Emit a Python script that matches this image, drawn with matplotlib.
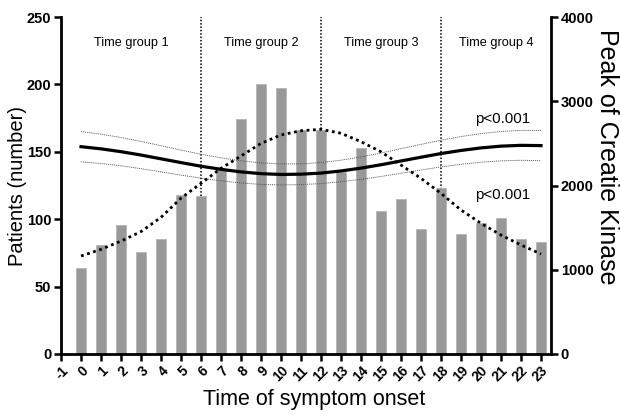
import matplotlib
matplotlib.use('Agg')
import matplotlib.pyplot as plt

plt.rcParams['font.family'] = ['Liberation Sans', 'DejaVu Sans']

HOURS = list(range(24))
PATIENTS = [64, 81, 96, 76, 85, 118, 117, 137, 174, 200, 197, 166,
            166, 135, 153, 106, 115, 93, 123, 89, 97, 101, 85, 83]

# cosinor fit of patients (left axis) with its confidence band
FIT = [153.8, 152.2, 150.1, 147.6, 144.8, 142.0, 139.3, 137.0, 135.1, 133.8, 133.2, 133.4,
       134.2, 135.8, 137.9, 140.4, 143.2, 146.0, 148.7, 151.0, 152.9, 154.2, 154.8, 154.6]
FIT_UP = [165.0, 163.1, 160.6, 157.7, 154.5, 151.3, 148.2, 145.5, 143.3, 141.8, 141.0, 141.1,
          142.0, 143.8, 146.2, 149.1, 152.3, 155.5, 158.6, 161.3, 163.5, 165.1, 165.9, 165.8]
FIT_LO = [142.6, 141.3, 139.6, 137.5, 135.1, 132.7, 130.4, 128.5, 126.9, 125.8, 125.4, 125.7,
          126.4, 127.8, 129.6, 131.7, 134.1, 136.5, 138.8, 140.7, 142.3, 143.3, 143.7, 143.4]

# peak creatine kinase fit (right axis)
CK = [1163, 1242, 1340, 1453, 1622, 1850, 2026, 2204, 2350, 2500, 2600, 2650,
      2667, 2620, 2520, 2400, 2243, 2085, 1907, 1709, 1551, 1412, 1294, 1187]

GROUPS = ["Time group 1", "Time group 2", "Time group 3", "Time group 4"]
GROUP_X = [2.5, 9, 15, 20.75]
BOUNDS = [6, 12, 18]

fig = plt.figure(figsize=(6.2, 4.15), dpi=100)
ax = fig.add_axes([0.0984, 0.147, 0.7903, 0.812])
ax2 = ax.twinx()

ax.bar(HOURS, PATIENTS, width=0.5, color='#999999', edgecolor='#b0b0b0', linewidth=0.5, zorder=2)
for b in BOUNDS:
    ax.axvline(b, color='black', linestyle=(0, (1, 1.2)), linewidth=1.1, zorder=1)

ax.plot(HOURS, FIT, color='black', linewidth=2.3, zorder=4)
ax.plot(HOURS, FIT_UP, color='#555555', linestyle=(0, (1, 1)), linewidth=0.7, zorder=4)
ax.plot(HOURS, FIT_LO, color='#555555', linestyle=(0, (1, 1)), linewidth=0.7, zorder=4)
ax2.plot(HOURS, CK, color='black', linestyle=(0, (1, 1.3)), linewidth=2.0, zorder=4)

for name, gx in zip(GROUPS, GROUP_X):
    ax.text(gx, 231, name, ha='center', va='center', fontsize=9.2)
ax.text(21.1, 174, "p<0.001", ha='center', va='center', fontsize=10.8)
ax.text(21.1, 118, "p<0.001", ha='center', va='center', fontsize=10.8)

ax.set_xlim(-1, 23.5)
ax.set_ylim(0, 250)
ax2.set_ylim(0, 4000)
ax.set_xticks(range(-1, 24))
ax.set_xticklabels([str(h) for h in range(-1, 24)], rotation=45, ha='right',
                   rotation_mode='anchor', fontweight='bold', fontsize=10)
ax.set_yticks([0, 50, 100, 150, 200, 250])
ax2.set_yticks([0, 1000, 2000, 3000, 4000])
for t in ax.get_yticklabels() + ax2.get_yticklabels():
    t.set_fontweight('bold')
    t.set_fontsize(10.5)

for a in (ax, ax2):
    a.spines['top'].set_visible(False)
    for s in a.spines.values():
        s.set_linewidth(2)
    a.tick_params(width=1.8, length=5, pad=2)
ax.spines['right'].set_visible(False)
ax2.spines['left'].set_visible(False)
ax2.spines['bottom'].set_visible(False)

ax.set_xlabel("Time of symptom onset", fontsize=15.5, va='center')
ax.xaxis.set_label_coords(0.516, -0.1365)
ax.set_ylabel("Patients (number)", fontsize=14.5, ha='center', va='center')
ax.yaxis.set_label_coords(-0.0898, 0.5)
ax2.set_ylabel("Peak of Creatie Kinase", fontsize=18, rotation=270, ha='center', va='center')
ax2.yaxis.set_label_coords(1.114, 0.585)

fig.savefig("out.png", dpi=100)
